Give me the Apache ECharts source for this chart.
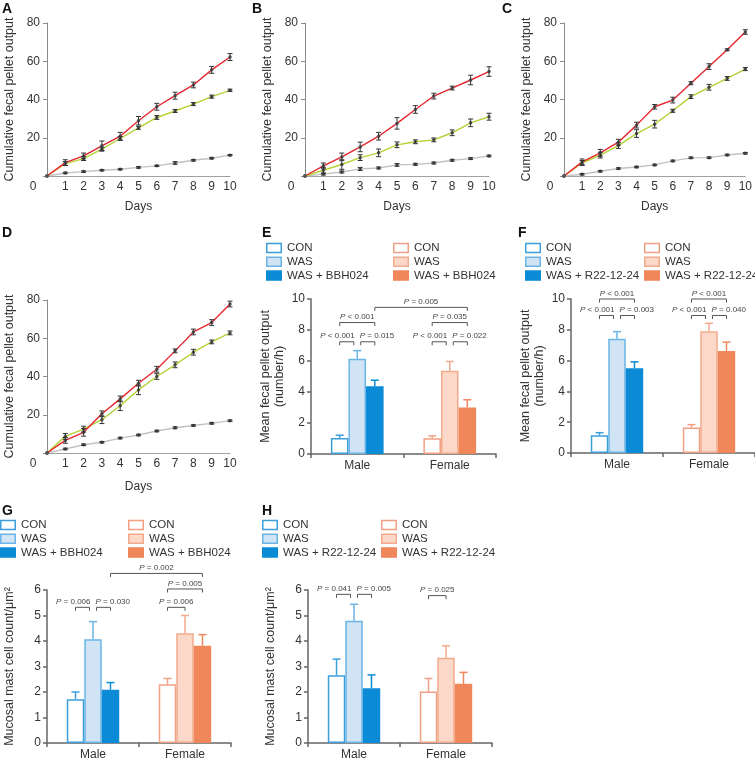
<!DOCTYPE html>
<html><head><meta charset="utf-8">
<script src="https://cdn.jsdelivr.net/npm/echarts@6/dist/echarts.min.js"></script>
<style>html,body{margin:0;padding:0;background:#fff}#c{width:755px;height:761px}</style>
</head><body><div id="c"></div>
<script>
// ---------- data: cumulative fecal pellet output (days 0..10) ----------
const days = [0,1,2,3,4,5,6,7,8,9,10];
const aRed   = [0,7.0,10.5,15.8,20.8,28.9,36.2,42.0,47.6,55.5,62.2];
const aRedErr= [0,1.5,1.5,2.5,2.0,2.2,1.8,1.8,1.5,1.8,1.8];
const aGrn   = [0,6.5,9.1,14.0,19.6,25.2,30.6,34.0,37.6,41.5,44.8];
const aGrnErr= [0,1.0,1.0,1.0,1.0,0.8,1.0,0.8,0.8,0.8,0.6];
const aGry   = [0,1.6,2.3,3.0,3.5,4.5,5.3,6.8,8.2,9.3,10.9];
const aGryErr= [0,0.4,0.4,0.3,0.3,0.4,0.3,0.7,0.4,0.4,0.3];

const bRed   = [0,5.3,10.0,15.2,20.8,27.5,34.8,41.8,46.0,50.2,54.6];
const bRedErr= [0,1.5,2.0,2.5,2.0,3.0,2.0,1.5,1.0,2.5,2.5];
const bGrn   = [0,3.0,6.0,9.6,12.1,16.3,17.9,18.9,22.6,27.8,31.0];
const bGrnErr= [0,1.5,2.5,1.5,2.0,1.5,1.0,1.0,1.5,2.0,1.8];
const bGry   = [0,1.0,2.1,3.7,4.2,5.8,6.1,6.8,8.2,9.1,10.5];
const bGryErr= [0,0.5,0.5,0.8,0.5,0.7,0.5,0.5,0.5,0.5,0.4];

const cRed   = [0,7.4,12.1,17.7,26.6,36.2,39.7,48.5,57.2,66.0,75.3];
const cRedErr= [0,1.5,1.8,1.5,1.5,1.2,1.5,0.8,1.5,0.5,1.2];
const cGrn   = [0,6.8,10.9,15.9,22.2,27.1,34.1,41.5,46.4,51.0,55.9];
const cGrnErr= [0,1.3,1.5,1.5,2.0,2.0,0.8,1.0,1.5,1.0,0.8];
const cGry   = [0,0.9,2.5,3.9,4.7,5.8,7.9,9.5,9.6,11.0,11.9];
const cGryErr= [0,0.4,0.4,0.4,0.4,0.4,0.4,0.4,0.4,0.4,0.4];

const dRed   = [0,6.6,10.8,20.5,28.3,36.5,43.8,53.4,63.3,68.2,77.9];
const dRedErr= [0,1.5,2.0,1.5,1.5,1.5,1.5,1.0,1.5,1.5,1.5];
const dGrn   = [0,8.7,12.5,17.4,24.7,33.0,40.0,46.1,52.7,58.1,62.8];
const dGrnErr= [0,1.5,1.5,2.0,2.5,2.5,1.5,1.5,1.5,1.0,1.0];
const dGry   = [0,2.1,4.3,5.6,7.8,9.4,11.5,13.2,14.4,15.5,16.9];
const dGryErr= [0,0.4,0.4,0.4,0.4,0.4,0.4,0.5,0.4,0.4,0.4];

const lineTicksY = [0,20,40,60,80];

// ---------- data: bar panels ----------
const sexes = ['Male','Female'];
const groupNames = ['CON','WAS'];
const trtE = 'WAS + BBH024', trtF = 'WAS + R22-12-24';

const eCon=[1.04,1.02], eConErr=[0.17,0.15];
const eWas=[6.15,5.37], eWasErr=[0.52,0.60];
const eTrt=[4.37,3.00], eTrtErr=[0.39,0.50];
const eBrackets=[[0,0,0,1,7.24],[0,1,0,2,7.24],[0,0,0,2,8.48],[0,2,1,2,9.46],[1,0,1,1,7.24],[1,1,1,2,7.24],[1,0,1,2,8.48]];
const eLabels=['P < 0.001','P = 0.015','P < 0.001','P = 0.005','P < 0.001','P = 0.022','P = 0.035'];

const fCon=[1.15,1.65], fConErr=[0.17,0.19];
const fWas=[7.42,7.90], fWasErr=[0.46,0.52];
const fTrt=[5.50,6.63], fTrtErr=[0.42,0.57];
const fBrackets=[[0,0,0,1,8.93],[0,1,0,2,8.93],[0,0,0,2,10.0],[1,0,1,1,8.93],[1,1,1,2,8.93],[1,0,1,2,10.0]];
const fLabels=['P < 0.001','P = 0.003','P < 0.001','P < 0.001','P = 0.040','P < 0.001'];

const gCon=[1.72,2.30], gConErr=[0.28,0.23];
const gWas=[4.07,4.30], gWasErr=[0.69,0.70];
const gTrt=[2.09,3.81], gTrtErr=[0.28,0.44];
const gBrackets=[[0,0,0,1,5.32],[0,1,0,2,5.32],[1,0,1,1,5.32],[1,0,1,2,6.04],[0,2,1,2,6.65]];
const gLabels=['P = 0.006','P = 0.030','P = 0.006','P = 0.005','P = 0.002'];

const hCon=[2.66,2.02], hConErr=[0.63,0.51];
const hWas=[4.79,3.34], hWasErr=[0.65,0.47];
const hTrt=[2.15,2.32], hTrtErr=[0.52,0.45];
const hBrackets=[[0,0,0,1,5.83],[0,1,0,2,5.83],[1,0,1,1,5.78]];
const hLabels=['P = 0.041','P = 0.005','P = 0.025'];

// ---------- styling ----------
const FONT = '"Liberation Sans", Arial, Helvetica, sans-serif';
const TXT = '#333';
const RED = '#e6262f', GRN = '#b5d235', GRY = '#c2c2c2';
const PAL = [
  [{fill:'#ffffff',stroke:'#3a9fdc'},{fill:'#d0e4f5',stroke:'#6ab5e6'},{fill:'#0b8bd6',stroke:'#0b8bd6'}],
  [{fill:'#ffffff',stroke:'#f2a083'},{fill:'#fbd8c8',stroke:'#f3aa8c'},{fill:'#f0875b',stroke:'#f0875b'}]
];

const grids=[], xAxes=[], yAxes=[], series=[], graphics=[];

function panelLetter(t,x,y){
  graphics.push({type:'text', x:x, y:y, style:{text:t, fill:'#111', font:'bold 14px '+FONT, textAlign:'left', textVerticalAlign:'top', align:'left', verticalAlign:'top'}});
}

// ---------- line panels ----------
function linePanel(box, daysGap, red, redErr, grn, grnErr, gry, gryErr){
  const gi = grids.length;
  grids.push({left:box[0], top:box[1], width:box[2], height:box[3]});
  xAxes.push({type:'value', gridIndex:gi, min:0, max:10, interval:1,
    axisLine:{show:true, onZero:false, lineStyle:{color:'#a0a0a0', width:1}},
    axisTick:{show:false}, splitLine:{show:false},
    axisLabel:{color:TXT, fontSize:12, fontFamily:FONT, margin:5,
      formatter:v=> v===0 ? '{z|0}' : String(v),
      rich:{z:{padding:[0,28,0,0], color:TXT, fontSize:12, fontFamily:FONT}}},
    name:'Days', nameLocation:'middle', nameGap:daysGap,
    nameTextStyle:{color:TXT, fontSize:12, fontFamily:FONT}});
  yAxes.push({type:'value', gridIndex:gi, min:lineTicksY[0], max:lineTicksY[lineTicksY.length-1], interval:20,
    axisLine:{show:true, lineStyle:{color:'#8a8a8a', width:1}},
    axisTick:{show:true, length:4, lineStyle:{color:'#8a8a8a'}}, splitLine:{show:false},
    axisLabel:{color:TXT, fontSize:12, fontFamily:FONT, margin:7, formatter:v=> v===0?'':String(v)},
    name:'Cumulative fecal pellet output', nameLocation:'middle', nameGap:31,
    nameTextStyle:{color:TXT, fontSize:12.5, fontFamily:FONT}});
  const sets=[[gry,gryErr,GRY],[grn,grnErr,GRN],[red,redErr,RED]];
  sets.forEach(([v,e,col])=>{
    series.push({type:'line', xAxisIndex:gi, yAxisIndex:gi, data:days.map((d,i)=>[d,v[i]]),
      symbol:'circle', symbolSize:3.5, showSymbol:true,
      itemStyle:{color:'#555'}, lineStyle:{color:col, width:1.4}, z:2, silent:true});
    series.push({type:'custom', xAxisIndex:gi, yAxisIndex:gi, z:3, silent:true,
      data:days.map((d,i)=>[d,v[i],e[i]]).filter(r=>r[0]>0),
      renderItem:(params,api)=>{
        const x=api.value(0), y=api.value(1), er=api.value(2);
        const t=api.coord([x,y+er]), b=api.coord([x,y-er]);
        const st={stroke:'#333', lineWidth:1};
        return {type:'group', children:[
          {type:'line', shape:{x1:t[0],y1:t[1],x2:b[0],y2:b[1]}, style:st},
          {type:'line', shape:{x1:t[0]-2.5,y1:t[1],x2:t[0]+2.5,y2:t[1]}, style:st},
          {type:'line', shape:{x1:b[0]-2.5,y1:b[1],x2:b[0]+2.5,y2:b[1]}, style:st}
        ]};
      }});
  });
}

linePanel([47,23,183,153], 25, aRed,aRedErr,aGrn,aGrnErr,aGry,aGryErr);
linePanel([305,23,184,153], 25, bRed,bRedErr,bGrn,bGrnErr,bGry,bGryErr);
linePanel([564,23,184,153], 25, cRed,cRedErr,cGrn,cGrnErr,cGry,cGryErr);
linePanel([47,300,183,153], 28, dRed,dRedErr,dGrn,dGrnErr,dGry,dGryErr);

// ---------- bar panels ----------
function legend(x0,y0,trtName){
  const names=[groupNames[0],groupNames[1],trtName];
  [0,1].forEach(s=>{
    const xx = s===0 ? x0[0] : x0[1];
    names.forEach((n,k)=>{
      const yy=y0+k*13.8;
      graphics.push({type:'rect', shape:{x:xx+0.75,y:yy-4.5,width:14.5,height:9},
        style:{fill:PAL[s][k].fill, stroke:PAL[s][k].stroke, lineWidth:1.5}});
      graphics.push({type:'text', x:xx+21, y:yy, style:{text:n, fill:TXT, font:'11.5px '+FONT,
        textAlign:'left', textVerticalAlign:'middle', align:'left', verticalAlign:'middle'}});
    });
  });
}

function barPanel(box, ymax, yint, yName, yGap, vals, errs, brackets, labels){
  const gi=grids.length;
  grids.push({left:box[0], top:box[1], width:box[2], height:box[3]});
  xAxes.push({type:'category', gridIndex:gi, data:sexes,
    axisLine:{show:true, lineStyle:{color:'#666', width:1.5}},
    axisTick:{show:true, length:4, lineStyle:{color:'#666', width:1.5}},
    axisLabel:{color:TXT, fontSize:12, fontFamily:FONT, margin:6}});
  yAxes.push({type:'value', gridIndex:gi, min:0, max:ymax, interval:yint,
    axisLine:{show:true, lineStyle:{color:'#666', width:1.5}},
    axisTick:{show:true, length:4, lineStyle:{color:'#666', width:1.5}}, splitLine:{show:false},
    axisLabel:{color:TXT, fontSize:12, fontFamily:FONT, margin:6},
    name:yName, nameLocation:'middle', nameGap:yGap,
    nameTextStyle:{color:TXT, fontSize:12.5, fontFamily:FONT, lineHeight:14, align:'center'}});
  vals.forEach((arr,k)=>{
    series.push({type:'bar', xAxisIndex:gi, yAxisIndex:gi, barWidth:'19%', barGap:'0%', silent:true, z:2,
      data:arr.map((v,i)=>({value:v, itemStyle:{color:PAL[i][k].fill, borderColor:PAL[i][k].stroke, borderWidth:1.5}}))});
  });
  const eb=[];
  vals.forEach((arr,k)=>arr.forEach((v,i)=>eb.push([i,v,errs[k][i],k])));
  series.push({type:'custom', xAxisIndex:gi, yAxisIndex:gi, z:3, silent:true, data:eb,
    renderItem:(params,api)=>{
      const i=api.value(0), v=api.value(1), er=api.value(2), k=api.value(3);
      const bw=api.size([1,0])[0]*0.19;
      const cx=api.coord([i,0])[0]+(k-1)*bw;
      const y0=api.coord([i,v])[1], y1=api.coord([i,v+er])[1];
      const st={stroke:PAL[i][k].stroke, lineWidth:1.5};
      return {type:'group', children:[
        {type:'line', shape:{x1:cx,y1:y0,x2:cx,y2:y1}, style:st},
        {type:'line', shape:{x1:cx-4,y1:y1,x2:cx+4,y2:y1}, style:st}
      ]};
    }});
  // significance brackets
  series.push({type:'custom', xAxisIndex:gi, yAxisIndex:gi, z:4, silent:true, clip:false, data:brackets,
    renderItem:(params,api)=>{
      const b=brackets[params.dataIndex];
      const [gA,bA,gB,bB,y]=b;
      const bw=api.size([1,0])[0]*0.19;
      let xa=api.coord([gA,0])[0]+(bA-1)*bw;
      let xb=api.coord([gB,0])[0]+(bB-1)*bw;
      const yy=api.coord([gA,y])[1];
      const shares = brackets.some((o,j)=> j!==params.dataIndex && o[0]===gA && o[2]===gA && Math.abs(o[4]-y)<0.05);
      let align='center', tx=(xa+xb)/2;
      if (gA===gB && shares){
        if (bB===1){ xb-=3.5; align='right'; tx=xb+1; }
        else if (bA===1){ xa+=3.5; align='left'; tx=xa-1; }
      }
      const st={stroke:'#555', lineWidth:1, fill:null};
      const lbl=labels[params.dataIndex];
      return {type:'group', children:[
        {type:'polyline', shape:{points:[[xa,yy+3.5],[xa,yy],[xb,yy],[xb,yy+3.5]]}, style:st},
        {type:'text', style:{x:tx, y:yy-1.5, text:'{i|P}{n|'+lbl.slice(1)+'}',
          align:align, verticalAlign:'bottom', textAlign:align, textVerticalAlign:'bottom',
          rich:{i:{fontStyle:'italic', fontSize:8, fontFamily:FONT, fill:'#444', color:'#444'},
                n:{fontSize:8, fontFamily:FONT, fill:'#444', color:'#444'}}}}
      ]};
    }});
}

barPanel([311,299,185,155], 10, 2, 'Mean fecal pellet output\n(number/h)', 24,
  [eCon,eWas,eTrt],[eConErr,eWasErr,eTrtErr], eBrackets, eLabels);
barPanel([571,299,184,154], 10, 2, 'Mean fecal pellet output\n(number/h)', 24,
  [fCon,fWas,fTrt],[fConErr,fWasErr,fTrtErr], fBrackets, fLabels);
barPanel([47,590,184,153], 6, 1, 'Mucosal mast cell count/\u03bcm\u00b2', 30,
  [gCon,gWas,gTrt],[gConErr,gWasErr,gTrtErr], gBrackets, gLabels);
barPanel([308,590,184,153], 6, 1, 'Mucosal mast cell count/\u03bcm\u00b2', 30,
  [hCon,hWas,hTrt],[hConErr,hWasErr,hTrtErr], hBrackets, hLabels);

legend([266,393],248,trtE);
legend([525,644],248,trtF);
legend([0,128],525,trtE);
legend([262,381],525,trtF);

panelLetter('A',2,2); panelLetter('B',252,2); panelLetter('C',502,2);
panelLetter('D',2,226); panelLetter('E',262,226); panelLetter('F',518,226);
panelLetter('G',2,504); panelLetter('H',262,504);

const chart = echarts.init(document.getElementById('c'), null, {renderer:'canvas'});
chart.setOption({animation:false, backgroundColor:'#fff',
  grid:grids, xAxis:xAxes, yAxis:yAxes, series:series, graphic:{elements:graphics}});
</script></body></html>
